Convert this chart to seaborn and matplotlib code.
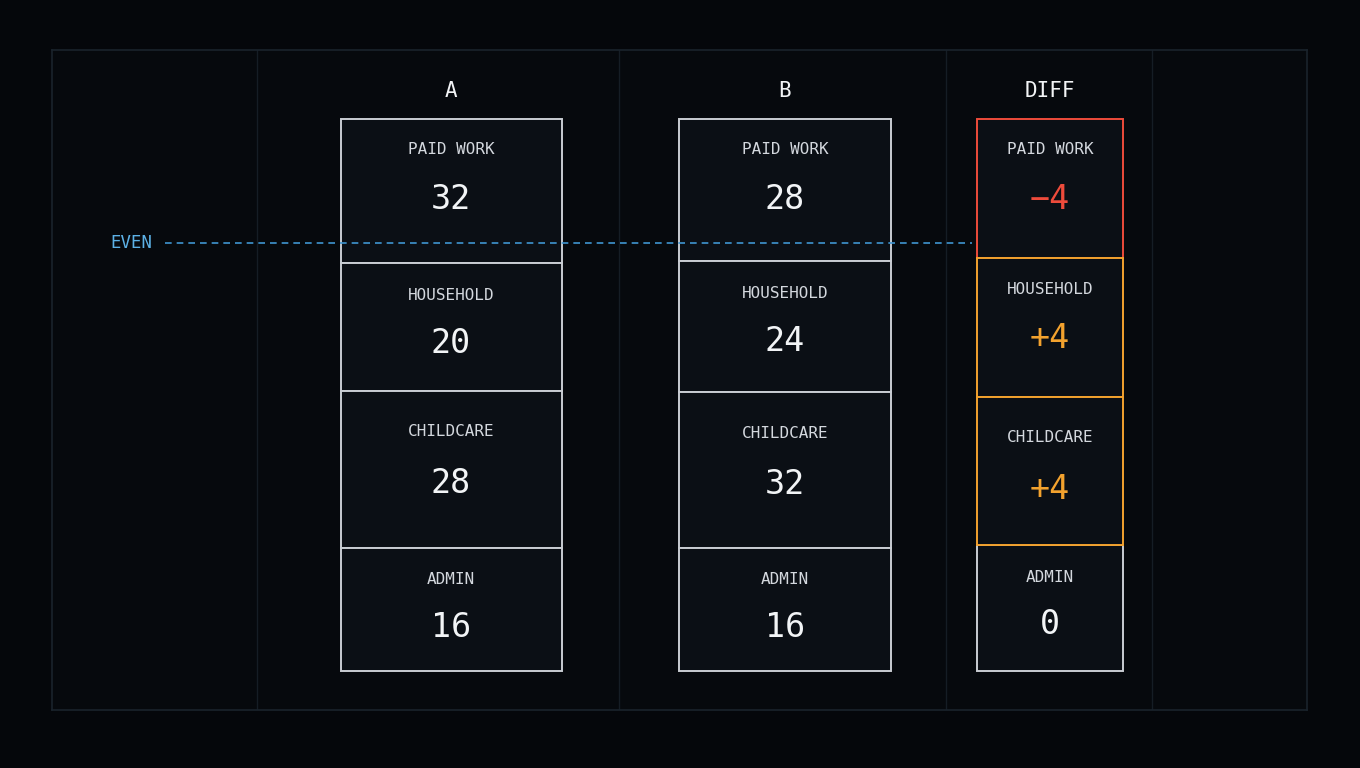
import matplotlib
matplotlib.use("Agg")
import matplotlib.pyplot as plt
import seaborn as sns

# ---- data ----
columns = ["A", "B", "DIFF"]
categories = ["PAID WORK", "HOUSEHOLD", "CHILDCARE", "ADMIN"]
a_hours = [32, 20, 28, 16]
b_hours = [28, 24, 32, 16]
diff_hours = [-4, 4, 4, 0]
even_label = "EVEN"

# ---- layout (pixel units of the panel) ----
W, H = 1360, 768
panel = (52, 50, 1307, 710)            # left, top, right, bottom
grid_x = [257, 619, 946, 1152]
col_centers = [451, 785, 1050]
col_widths = [221, 212, 146]
col_top = 119
seg_heights = [[144, 128, 157, 123],
               [142, 131, 156, 123],
               [139, 139, 148, 126]]
label_off = [30, 31, 40, 31]       # label centre below segment top
value_off = [80, 80, 92, 79]       # value centre below segment top
even_y = 243
even_x = (165, 972)
header_base = 97

BG = "#05070b"
PANEL = "#06090d"
FRAME = "#1a232c"
BOX_FILL = "#0b0f15"
BOX_EDGE = "#c9cdd3"
TEXT = "#d4d8de"
WHITE = "#f2f4f6"
RED = "#ee4b3b"
ORANGE = "#f3a22e"
BLUE_TXT = "#5cb1e6"
BLUE_LINE = "#3f95d0"

sns.set_theme(style="dark", rc={"axes.facecolor": PANEL, "figure.facecolor": BG})
plt.rcParams["font.family"] = ["DejaVu Sans Mono", "DejaVu Sans"]

fig = plt.figure(figsize=(W / 100, H / 100), dpi=100)
l, t, r, b = panel
ax = fig.add_axes([l / W, 1 - b / H, (r - l) / W, (b - t) / H])
ax.set_xlim(l, r)
ax.set_ylim(b, t)
ax.set_xticks([])
ax.set_yticks([])
for s in ax.spines.values():
    s.set_visible(True)
    s.set_color(FRAME)
    s.set_linewidth(1.2)

for gx in grid_x:
    ax.axvline(gx, color="#151d25", lw=1.0, zorder=1)


def fmt_diff(v):
    if v > 0:
        return f"+{v}"
    if v < 0:
        return f"\u2212{abs(v)}"
    return "0"


def diff_color(v):
    if v > 0:
        return ORANGE
    if v < 0:
        return RED
    return None


series = [a_hours, b_hours, diff_hours]
for ci, (name, vals) in enumerate(zip(columns, series)):
    cx = col_centers[ci]
    w = col_widths[ci]
    ax.text(cx, header_base, name, ha="center", va="baseline",
            fontsize=15, color=WHITE, zorder=6)
    top = col_top
    for si, (cat, v) in enumerate(zip(categories, vals)):
        h = seg_heights[ci][si]
        if name == "DIFF":
            c = diff_color(v)
            edge = c if c else BOX_EDGE
            vcol = c if c else WHITE
            txt = fmt_diff(v)
            z = 4 if v > 0 else (3.5 if v < 0 else 3)
        else:
            edge, vcol, txt, z = BOX_EDGE, WHITE, str(v), 3
        ax.bar(cx, h, bottom=top, width=w, color=BOX_FILL, edgecolor=edge,
               linewidth=1.4, zorder=z)
        ax.text(cx, top + label_off[si] + 5.5, cat, ha="center", va="baseline",
                fontsize=11.5, color=TEXT, zorder=6)
        ax.text(cx, top + value_off[si] + 10, txt, ha="center", va="baseline",
                fontsize=24, color=vcol, zorder=6)
        top += h

ax.plot(list(even_x), [even_y, even_y], ls=(0, (4, 3)), color=BLUE_LINE,
        lw=1.2, zorder=5)
ax.text(110, even_y + 5, even_label, ha="left", va="baseline",
        fontsize=12.5, color=BLUE_TXT, zorder=6)

fig.savefig("out.png", dpi=100, facecolor=BG)
